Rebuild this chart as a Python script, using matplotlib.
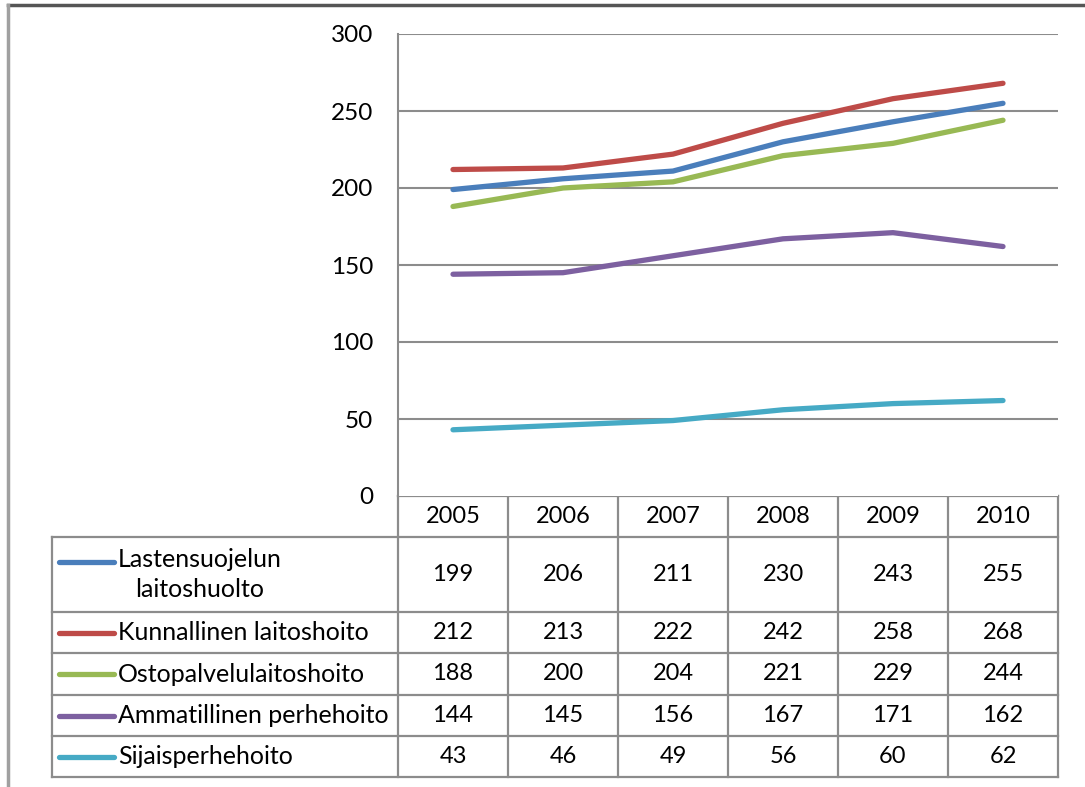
import matplotlib.pyplot as plt
import numpy as np

# Chart data
years = ["2005", "2006", "2007", "2008", "2009", "2010"]
series_names = [
    "Lastensuojelun\nlaitoshuolto",
    "Kunnallinen laitoshoito",
    "Ostopalvelulaitoshoito",
    "Ammatillinen perhehoito",
    "Sijaisperhehoito",
]
lastensuojelu = [199, 206, 211, 230, 243, 255]
kunnallinen = [212, 213, 222, 242, 258, 268]
ostopalvelu = [188, 200, 204, 221, 229, 244]
ammatillinen = [144, 145, 156, 167, 171, 162]
sijaisperhe = [43, 46, 49, 56, 60, 62]
yticks = [0, 50, 100, 150, 200, 250, 300]

all_series = [lastensuojelu, kunnallinen, ostopalvelu, ammatillinen, sijaisperhe]
colors = ["#4A7EBB", "#BE4B48", "#98B954", "#7D60A0", "#46AAC5"]

plt.rcParams["font.family"] = ["Liberation Sans Narrow", "Lato", "DejaVu Sans"]
FS = 17
GRID = "#8c8c8c"

W, H = 1085, 787
fig = plt.figure(figsize=(W / 100, H / 100), dpi=100)

# pixel layout
ax_left, ax_right, ax_top, ax_bottom = 398, 1058, 34, 496
ax = fig.add_axes([ax_left / W, 1 - ax_bottom / H,
                   (ax_right - ax_left) / W, (ax_bottom - ax_top) / H])

x = np.arange(len(years))
for vals, c in zip(all_series, colors):
    ax.plot(x, vals, color=c, lw=3.8, solid_capstyle="round", zorder=3)

ax.set_xlim(-0.5, len(years) - 0.5)
ax.set_ylim(0, 300)
ax.set_yticks(yticks)
ax.set_yticklabels([str(v) for v in yticks], fontsize=FS + 0.5)
ax.tick_params(axis="y", length=0, pad=18)
ax.set_xticks([])
for v in yticks[1:]:
    ax.axhline(v, color=GRID, lw=1.5, zorder=1)
for s in ["top", "right", "bottom"]:
    ax.spines[s].set_visible(False)
ax.spines["left"].set_color(GRID)
ax.spines["left"].set_linewidth(1.5)

# data table drawn in pixel coordinates
tab = fig.add_axes([0, 0, 1, 1], zorder=-1)
tab.set_xlim(0, W)
tab.set_ylim(H, 0)
tab.axis("off")

col_edges = np.linspace(ax_left, ax_right, len(years) + 1)
row_edges = [537, 612, 653, 695, 736, 777]
header_top = ax_bottom
lab_left = 52
lk = dict(color=GRID, lw=1.6)

# header row
tab.plot([ax_left, ax_right], [header_top, header_top], **lk)
for ce in col_edges:
    tab.plot([ce, ce], [header_top, row_edges[-1]], **lk)
for i, yr in enumerate(years):
    tab.text((col_edges[i] + col_edges[i + 1]) / 2, (header_top + row_edges[0]) / 2,
             yr, ha="center", va="center", fontsize=FS)

# body rows
for re in row_edges:
    tab.plot([lab_left, ax_right], [re, re], **lk)
tab.plot([lab_left, lab_left], [row_edges[0], row_edges[-1]], **lk)

for r, (name, vals, c) in enumerate(zip(series_names, all_series, colors)):
    yc = (row_edges[r] + row_edges[r + 1]) / 2
    ly = yc - 13 if "\n" in name else yc
    tab.plot([59, 114], [ly, ly], color=c, lw=3.8, solid_capstyle="round")
    tab.text(118, yc, name, ha="left", va="center", fontsize=FS + 1,
             multialignment="center", linespacing=1.35)
    for i, v in enumerate(vals):
        tab.text((col_edges[i] + col_edges[i + 1]) / 2, yc, str(v),
                 ha="center", va="center", fontsize=FS)

# outer frame pieces
tab.plot([8, W], [5, 5], color="#555555", lw=2.5)
tab.plot([8, 8], [5, H], color="#a0a0a0", lw=2.5)

fig.savefig("out.png", dpi=100, facecolor="white")
